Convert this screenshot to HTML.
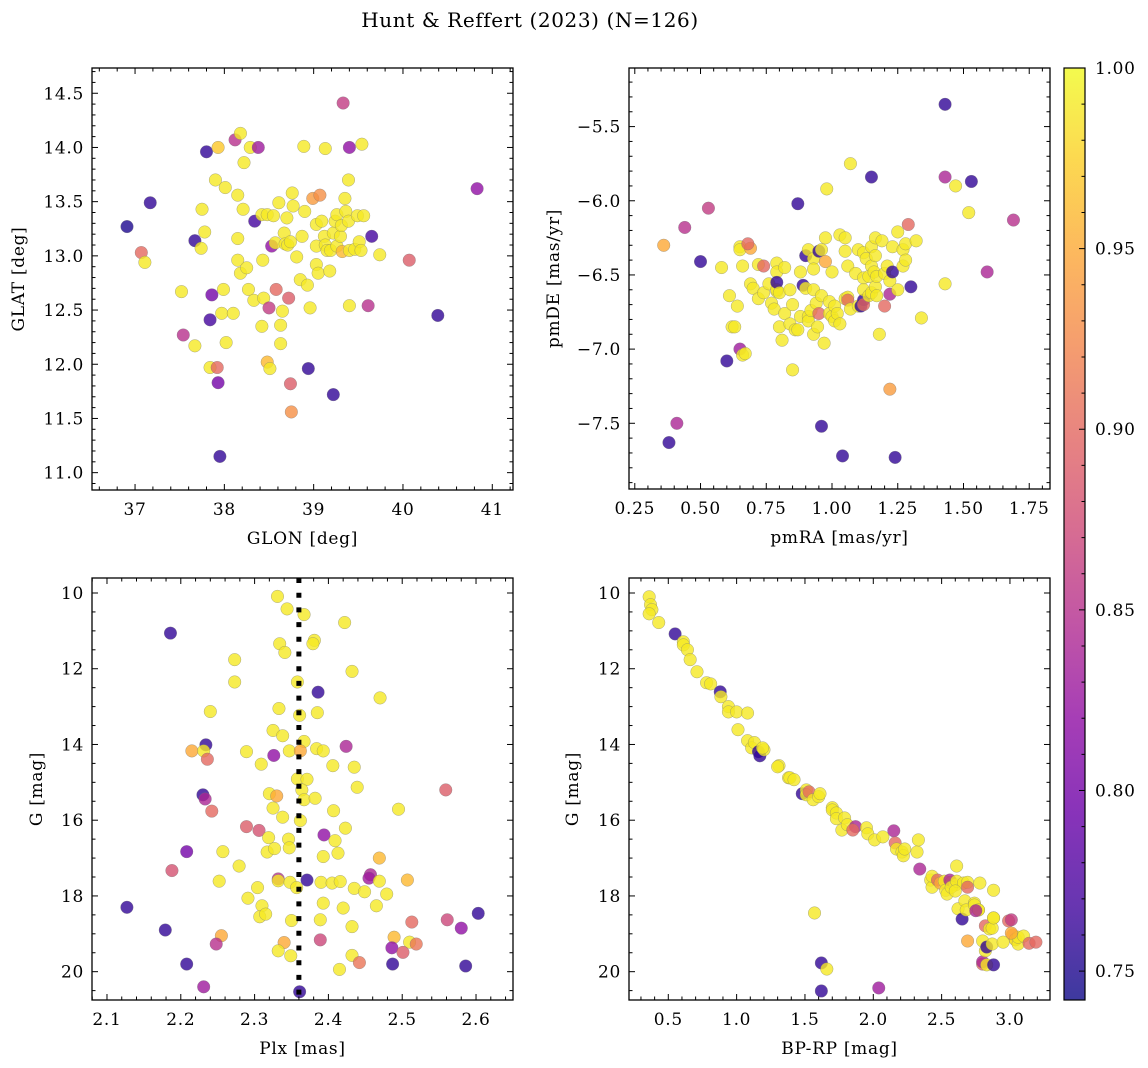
<!DOCTYPE html>
<html><head><meta charset="utf-8"><style>
html,body{margin:0;padding:0;background:#fff;}
svg{display:block;font-family:"DejaVu Serif","Liberation Serif",serif;}
</style></head><body>
<svg id="fig" width="1148" height="1068" viewBox="0 0 1148 1068" xmlns="http://www.w3.org/2000/svg">
<text x="530" y="27" text-anchor="middle" font-size="20" letter-spacing="0.6">Hunt &amp; Reffert (2023) (N=126)</text>
</svg>
<script>
// ---- Panel 1: GLON / GLAT ----
const glon=[36.91,37.17,37.07,37.11,37.52,37.54,37.67,37.67,37.74,37.75,37.80,37.78,37.84,37.86,37.84,37.92,37.93,37.95,37.90,37.93,37.99,37.97,38.01,38.02,38.10,38.12,38.18,38.15,38.15,38.15,38.18,38.22,38.21,38.25,38.27,38.29,38.33,38.34,38.38,38.42,38.42,38.43,38.44,38.48,38.48,38.50,38.51,38.53,38.55,38.57,38.58,38.61,38.63,38.63,38.65,38.67,38.68,38.71,38.70,38.72,38.74,38.75,38.74,38.76,38.77,38.81,38.85,38.87,38.89,38.90,38.93,38.94,38.96,38.99,39.03,39.03,39.03,39.05,39.07,39.09,39.12,39.13,39.13,39.15,39.18,39.19,39.22,39.24,39.26,39.26,39.30,39.31,39.33,39.32,39.35,39.36,39.39,39.39,39.40,39.40,39.40,39.46,39.49,39.51,39.54,39.53,39.56,39.61,39.65,39.74,39.22,40.07,40.39,40.83];
const glat=[13.27,13.49,13.03,12.94,12.67,12.27,12.17,13.14,13.07,13.43,13.96,13.22,12.41,12.64,11.97,11.97,11.83,11.15,13.70,14.00,12.69,12.47,13.63,12.20,12.47,14.07,14.13,12.96,13.16,13.56,12.84,13.86,13.43,12.89,12.69,14.00,12.59,13.32,14.00,13.38,12.35,12.96,12.61,13.38,12.02,12.52,11.96,13.09,13.37,13.12,12.69,13.49,12.36,12.19,12.49,13.21,13.11,13.10,13.35,12.61,11.82,11.56,13.13,13.58,13.46,12.99,12.78,13.18,14.01,13.41,12.73,11.96,12.52,13.53,13.09,13.29,12.92,12.84,13.56,13.32,13.18,13.10,13.99,13.05,12.86,13.05,13.21,13.32,13.09,13.38,13.18,13.28,14.41,13.04,13.53,13.41,13.70,13.32,14.00,12.54,13.05,13.06,13.37,13.13,14.03,13.05,13.37,12.54,13.18,13.01,11.72,12.96,12.45,13.62];
const prob1=[0.75,0.76,0.90,0.99,0.99,0.85,0.99,0.76,0.99,0.99,0.76,0.99,0.77,0.80,0.99,0.90,0.80,0.76,0.99,0.97,0.99,0.99,0.99,0.99,0.99,0.85,0.99,0.99,0.99,0.99,0.99,0.99,0.99,0.99,0.99,0.99,0.99,0.77,0.83,0.99,0.99,0.99,0.99,0.99,0.96,0.86,0.99,0.82,0.99,0.99,0.90,0.99,0.99,0.99,0.99,0.99,0.99,0.99,0.99,0.89,0.89,0.93,0.99,0.99,0.99,0.99,0.99,0.99,0.99,0.99,0.99,0.76,0.99,0.94,0.99,0.99,0.99,0.99,0.93,0.99,0.99,0.99,0.99,0.99,0.99,0.99,0.99,0.99,0.99,0.99,0.99,0.99,0.86,0.96,0.99,0.99,0.99,0.99,0.82,0.99,0.99,0.99,0.99,0.99,0.99,0.99,0.99,0.85,0.77,0.99,0.76,0.89,0.76,0.82];
const glonTicks=[37,38,39,40,41];
const glatTicks=[11.0,11.5,12.0,12.5,13.0,13.5,14.0,14.5];

// ---- Panel 2: pmRA / pmDE ----
const pmra=[0.36,0.41,0.38,0.44,0.50,0.53,0.65,0.66,0.67,0.58,0.60,0.62,0.61,0.63,0.64,0.65,0.65,0.66,0.69,0.68,0.69,0.70,0.72,0.72,0.74,0.74,0.76,0.77,0.78,0.79,0.79,0.79,0.79,0.79,0.80,0.80,0.81,0.82,0.82,0.84,0.84,0.85,0.85,0.86,0.87,0.87,0.88,0.88,0.89,0.90,0.90,0.91,0.91,0.91,0.92,0.93,0.93,0.93,0.93,0.94,0.945,0.95,0.96,0.95,0.96,0.96,0.97,0.975,0.975,0.98,0.99,0.99,1.00,1.00,1.01,1.01,1.02,1.03,1.03,1.04,1.05,1.05,1.05,1.06,1.06,1.06,1.07,1.07,1.09,1.10,1.10,1.11,1.12,1.12,1.12,1.12,1.12,1.13,1.14,1.14,1.15,1.15,1.15,1.15,1.16,1.165,1.165,1.165,1.17,1.17,1.18,1.19,1.20,1.20,1.21,1.22,1.22,1.22,1.23,1.23,1.24,1.25,1.25,1.27,1.27,1.28,1.28,1.29,1.30,1.32,1.34,1.43,1.43,1.43,1.47,1.52,1.53,1.59,1.69];
const pmde=[-6.30,-7.50,-7.63,-6.18,-6.41,-6.05,-7.00,-7.04,-7.03,-6.45,-7.08,-6.85,-6.64,-6.85,-6.71,-6.31,-6.33,-6.44,-6.32,-6.29,-6.56,-6.59,-6.43,-6.66,-6.44,-6.62,-6.56,-6.69,-6.73,-6.61,-6.42,-6.48,-6.60,-6.55,-6.85,-6.62,-6.94,-6.76,-6.45,-6.83,-6.60,-6.70,-7.14,-6.87,-6.02,-6.87,-6.78,-6.48,-6.57,-6.37,-6.59,-6.78,-6.33,-6.81,-6.74,-6.39,-6.60,-6.90,-6.46,-6.69,-6.85,-6.34,-6.64,-6.76,-7.52,-6.33,-6.96,-6.41,-6.25,-5.92,-6.76,-6.68,-6.48,-6.78,-6.81,-6.71,-6.76,-6.23,-6.83,-7.72,-6.34,-6.66,-6.25,-6.65,-6.44,-6.67,-6.73,-5.75,-6.49,-6.33,-6.71,-6.71,-6.67,-6.52,-6.35,-6.60,-6.70,-6.39,-6.51,-6.64,-5.84,-6.44,-6.31,-6.62,-6.48,-6.58,-6.25,-6.37,-6.51,-6.64,-6.90,-6.27,-6.49,-6.71,-6.44,-6.63,-7.27,-6.54,-6.31,-6.48,-7.73,-6.21,-6.60,-6.33,-6.44,-6.29,-6.40,-6.16,-6.58,-6.27,-6.79,-5.35,-5.84,-6.56,-5.90,-6.08,-5.87,-6.48,-6.13];
const prob2=[0.95,0.84,0.76,0.85,0.76,0.86,0.83,0.99,0.99,0.99,0.76,0.99,0.99,0.99,0.99,0.99,0.99,0.99,0.95,0.90,0.99,0.99,0.99,0.99,0.90,0.99,0.99,0.99,0.99,0.99,0.99,0.99,0.99,0.76,0.99,0.99,0.99,0.99,0.99,0.99,0.99,0.99,0.99,0.99,0.76,0.99,0.99,0.99,0.76,0.76,0.99,0.99,0.99,0.99,0.99,0.99,0.99,0.99,0.99,0.99,0.99,0.76,0.99,0.90,0.76,0.99,0.99,0.95,0.99,0.99,0.99,0.99,0.99,0.99,0.99,0.99,0.99,0.99,0.99,0.76,0.99,0.99,0.99,0.99,0.99,0.90,0.99,0.99,0.99,0.99,0.99,0.76,0.76,0.99,0.99,0.99,0.90,0.99,0.99,0.99,0.76,0.99,0.99,0.99,0.99,0.99,0.99,0.99,0.99,0.99,0.99,0.99,0.99,0.90,0.99,0.84,0.94,0.99,0.99,0.76,0.76,0.99,0.99,0.99,0.99,0.99,0.99,0.90,0.76,0.99,0.99,0.76,0.84,0.99,0.99,0.99,0.76,0.84,0.85];
const pmraTicks=[0.25,0.50,0.75,1.00,1.25,1.50,1.75];
const pmdeTicks=[-7.5,-7.0,-6.5,-6.0,-5.5];

// ---- Panel 3: Plx / G ----
const plx=[2.331,2.344,2.367,2.422,2.186,2.334,2.341,2.381,2.379,2.273,2.432,2.273,2.358,2.386,2.470,2.240,2.333,2.361,2.385,2.325,2.338,2.367,2.234,2.215,2.231,2.236,2.289,2.326,2.347,2.362,2.384,2.393,2.424,2.309,2.406,2.435,2.358,2.371,2.439,2.230,2.233,2.242,2.320,2.330,2.364,2.367,2.382,2.325,2.338,2.362,2.407,2.495,2.559,2.289,2.306,2.319,2.346,2.394,2.423,2.409,2.208,2.257,2.317,2.327,2.347,2.393,2.413,2.469,2.188,2.279,2.252,2.332,2.332,2.348,2.357,2.371,2.390,2.405,2.416,2.457,2.455,2.469,2.507,2.304,2.291,2.435,2.449,2.479,2.127,2.310,2.393,2.420,2.465,2.603,2.307,2.315,2.350,2.389,2.513,2.561,2.580,2.432,2.179,2.255,2.248,2.340,2.389,2.489,2.486,2.510,2.519,2.501,2.332,2.349,2.432,2.442,2.208,2.487,2.586,2.415,2.231,2.361];
const gmag3=[10.09,10.42,10.57,10.78,11.06,11.34,11.57,11.25,11.34,11.76,12.07,12.35,12.35,12.62,12.77,13.13,13.05,13.23,13.16,13.63,13.77,13.92,14.01,14.17,14.17,14.39,14.19,14.29,14.17,14.17,14.11,14.17,14.05,14.52,14.56,14.60,14.91,14.92,15.13,15.33,15.44,15.76,15.30,15.36,15.20,15.46,15.42,15.68,15.92,16.01,15.75,15.71,15.20,16.17,16.27,16.46,16.50,16.39,16.21,16.54,16.83,16.83,16.84,16.75,16.73,16.96,16.87,17.00,17.33,17.21,17.61,17.55,17.60,17.64,17.78,17.58,17.64,17.66,17.62,17.44,17.53,17.61,17.58,17.78,18.06,17.80,17.89,17.95,18.30,18.26,18.19,18.32,18.26,18.46,18.55,18.48,18.65,18.63,18.69,18.63,18.85,18.81,18.90,19.05,19.27,19.23,19.16,19.09,19.37,19.22,19.27,19.49,19.45,19.58,19.57,19.76,19.80,19.80,19.85,19.94,20.40,20.53];
const prob3=[0.99,0.99,0.99,0.99,0.76,0.99,0.99,0.99,0.99,0.99,0.99,0.99,0.99,0.76,0.99,0.99,0.99,0.99,0.99,0.99,0.99,0.99,0.76,0.95,0.99,0.90,0.99,0.82,0.99,0.95,0.99,0.99,0.84,0.99,0.99,0.99,0.99,0.99,0.99,0.76,0.84,0.90,0.99,0.95,0.99,0.99,0.99,0.99,0.99,0.99,0.99,0.99,0.89,0.89,0.88,0.99,0.99,0.82,0.99,0.99,0.80,0.99,0.99,0.99,0.99,0.99,0.99,0.96,0.88,0.99,0.99,0.85,0.99,0.99,0.99,0.76,0.99,0.99,0.99,0.84,0.83,0.99,0.96,0.99,0.99,0.99,0.99,0.99,0.76,0.99,0.99,0.99,0.99,0.76,0.99,0.99,0.99,0.99,0.90,0.87,0.82,0.99,0.76,0.95,0.85,0.95,0.87,0.96,0.82,0.99,0.91,0.89,0.99,0.99,0.99,0.91,0.76,0.76,0.76,0.99,0.83,0.76];
const plxLine=[2.36];
const plxTicks=[2.1,2.2,2.3,2.4,2.5,2.6];
const gTicks=[10,12,14,16,18,20];

// ---- Panel 4: BP-RP / G ----
const bprp=[0.36,0.37,0.38,0.36,0.43,0.55,0.61,0.61,0.64,0.66,0.71,0.78,0.81,0.88,0.885,0.94,0.94,1.00,1.08,1.01,1.08,1.11,1.13,1.16,1.17,1.20,1.19,1.31,1.30,1.38,1.39,1.42,1.48,1.51,1.51,1.53,1.56,1.60,1.61,1.70,1.70,1.73,1.73,1.79,1.77,1.81,1.87,1.85,1.95,1.96,2.01,2.07,2.15,2.16,2.17,2.21,2.22,2.23,2.32,2.33,2.34,2.42,2.43,2.43,2.47,2.49,2.52,2.53,2.54,2.57,2.56,2.60,2.57,2.61,2.66,2.60,2.62,2.65,2.67,2.69,2.61,2.69,2.68,2.74,2.77,2.74,2.78,2.69,2.77,2.75,2.80,2.82,2.85,2.88,2.80,2.80,2.83,2.82,2.83,2.88,2.87,2.87,2.88,2.88,2.99,3.01,3.02,3.04,3.04,3.06,3.06,3.10,3.14,3.19,2.95,3.01,1.57,1.62,1.66,2.04,1.62];
const gmag4=[10.10,10.31,10.44,10.55,10.78,11.08,11.29,11.37,11.50,11.76,12.08,12.37,12.40,12.61,12.74,13.00,13.14,13.14,13.17,13.61,13.90,14.09,13.95,14.19,14.30,14.14,14.09,14.56,14.59,14.88,14.88,14.93,15.30,15.20,15.33,15.25,15.46,15.38,15.30,15.67,15.73,15.81,15.96,15.94,16.26,16.12,16.17,16.26,16.20,16.36,16.52,16.44,16.28,16.60,16.76,16.84,16.94,16.76,16.84,16.52,17.29,17.58,17.77,17.48,17.58,17.66,17.61,17.85,17.95,17.64,17.58,17.71,17.77,17.61,17.66,17.87,18.34,18.61,18.13,17.64,17.21,17.77,18.37,18.19,18.37,18.24,17.66,19.19,18.37,18.39,19.19,18.79,18.87,18.58,19.80,19.74,19.82,19.45,19.35,19.82,19.27,18.85,18.58,17.85,18.66,18.63,19.03,19.14,19.16,19.27,19.09,19.06,19.25,19.22,19.22,18.98,18.45,19.77,19.93,20.43,20.51];
const prob4=[0.99,0.99,0.99,0.99,0.99,0.76,0.99,0.99,0.99,0.99,0.99,0.99,0.99,0.76,0.99,0.99,0.99,0.99,0.99,0.99,0.99,0.99,0.99,0.76,0.76,0.99,0.99,0.99,0.99,0.99,0.99,0.99,0.76,0.99,0.99,0.90,0.99,0.99,0.99,0.99,0.99,0.99,0.99,0.99,0.99,0.99,0.84,0.90,0.99,0.99,0.99,0.99,0.84,0.90,0.99,0.99,0.99,0.99,0.99,0.99,0.84,0.99,0.99,0.99,0.90,0.95,0.99,0.99,0.99,0.99,0.84,0.99,0.99,0.99,0.99,0.99,0.99,0.76,0.99,0.99,0.99,0.90,0.99,0.99,0.99,0.99,0.99,0.95,0.99,0.84,0.99,0.90,0.99,0.99,0.90,0.84,0.99,0.99,0.76,0.76,0.99,0.99,0.99,0.99,0.90,0.86,0.95,0.95,0.99,0.99,0.99,0.99,0.90,0.90,0.99,0.95,0.99,0.76,0.99,0.83,0.76];
const bprpTicks=[0.5,1.0,1.5,2.0,2.5,3.0];

// ---- Colorbar ----
const cbTicks=[0.75,0.80,0.85,0.90,0.95,1.00];
const cbMin=0.742, cbMax=1.0;

const NS="http://www.w3.org/2000/svg";
const fig=document.getElementById('fig');
function mk(tag,attrs,parent){const e=document.createElementNS(NS,tag);for(const k in attrs)e.setAttribute(k,attrs[k]);(parent||fig).appendChild(e);return e;}
const plasma=[[13,8,135],[65,4,157],[106,0,168],[143,13,164],[177,42,144],[204,71,120],[225,100,98],[242,132,75],[252,166,54],[252,206,37],[240,249,33]];
function cmap(p){let t=(p-cbMin)/(cbMax-cbMin);t=Math.max(0,Math.min(1,t));const f=t*10,i=Math.min(9,Math.floor(f)),r=f-i;const a=plasma[i],b=plasma[i+1];return `rgb(${Math.round(a[0]+(b[0]-a[0])*r)},${Math.round(a[1]+(b[1]-a[1])*r)},${Math.round(a[2]+(b[2]-a[2])*r)})`;}
function lin(d0,d1,r0,r1){return v=>r0+(v-d0)*(r1-r0)/(d1-d0);}
const FS=17, LS=0.7;

function panel(cfg){
  const g=mk('g',{});
  
  
  const sx=lin(cfg.xd[0],cfg.xd[1],cfg.x0,cfg.x1), sy=lin(cfg.yd[0],cfg.yd[1],cfg.y1,cfg.y0);
  const pg=mk('g',{},g);
  
  
  for(let i=0;i<cfg.xs.length;i++){
    const c=mk('circle',{cx:sx(cfg.xs[i]),cy:sy(cfg.ys[i]),r:6.3,fill:cmap(cfg.ps[i]),'fill-opacity':0.8,stroke:'#777','stroke-opacity':0.6,'stroke-width':0.5},pg);
    
    
  }
  if(cfg.after)cfg.after(g,sx,sy);
  const tk=mk('g',{stroke:'#000','stroke-width':1},g);
  
  
  const xr=[Math.min(cfg.xd[0],cfg.xd[1]),Math.max(cfg.xd[0],cfg.xd[1])], yr=[Math.min(cfg.yd[0],cfg.yd[1]),Math.max(cfg.yd[0],cfg.yd[1])];
  for(let k=Math.ceil(xr[0]/cfg.xmin-1e-6);k*cfg.xmin<=xr[1]+1e-9;k++){const v=k*cfg.xmin,x=sx(v);const major=cfg.xt.some(t=>Math.abs(t-v)<1e-6);const L=major?6:3.5;
    mk('line',{x1:x,x2:x,y1:cfg.y1,y2:cfg.y1-L},tk);mk('line',{x1:x,x2:x,y1:cfg.y0,y2:cfg.y0+L},tk);}
  for(let k=Math.ceil(yr[0]/cfg.ymin-1e-6);k*cfg.ymin<=yr[1]+1e-9;k++){const v=k*cfg.ymin,y=sy(v);const major=cfg.yt.some(t=>Math.abs(t-v)<1e-6);const L=major?6:3.5;
    mk('line',{y1:y,y2:y,x1:cfg.x0,x2:cfg.x0+L},tk);mk('line',{y1:y,y2:y,x1:cfg.x1,x2:cfg.x1-L},tk);}
  mk('rect',{x:cfg.x0,y:cfg.y0,width:cfg.x1-cfg.x0,height:cfg.y1-cfg.y0,fill:'none',stroke:'#000','stroke-width':1.3},g);
  cfg.xt.forEach(v=>{const t=mk('text',{x:sx(v),y:cfg.y1+25,'text-anchor':'middle','font-size':FS,'letter-spacing':LS},g);t.textContent=cfg.xfmt(v);
    });
  cfg.yt.forEach(v=>{const t=mk('text',{x:cfg.x0-8,y:sy(v)+6,'text-anchor':'end','font-size':FS,'letter-spacing':LS},g);t.textContent=cfg.yfmt(v);
    });
  const xl=mk('text',{x:(cfg.x0+cfg.x1)/2,y:cfg.y1+54,'text-anchor':'middle','font-size':FS,'letter-spacing':LS},g);xl.textContent=cfg.xlabel;
  
  const yl=mk('text',{x:cfg.ylx,y:(cfg.y0+cfg.y1)/2,'text-anchor':'middle','font-size':FS,'letter-spacing':LS,transform:`rotate(-90 ${cfg.ylx} ${(cfg.y0+cfg.y1)/2})`},g);yl.textContent=cfg.ylabel;
  
}
const f1=v=>v.toFixed(1), f2=v=>v.toFixed(2), f0=v=>v.toFixed(0), fm=v=>v.toFixed(1).replace('-','\u2212');
const gDom=[20.748,9.604];
panel({name:'panel-position',xs:glon,ys:glat,ps:prob1,x0:92,x1:513,y0:68,y1:490,xd:[36.518,41.232],yd:[10.84,14.733],xt:glonTicks,yt:glatTicks,xmin:0.2,ymin:0.1,xfmt:f0,yfmt:f1,xlabel:'GLON [deg]',ylabel:'GLAT [deg]',ylx:24});
panel({name:'panel-proper-motion',xs:pmra,ys:pmde,ps:prob2,x0:629,x1:1050,y0:68,y1:489,xd:[0.228,1.829],yd:[-7.943,-5.105],xt:pmraTicks,yt:pmdeTicks,xmin:0.05,ymin:0.1,xfmt:f2,yfmt:fm,xlabel:'pmRA [mas/yr]',ylabel:'pmDE [mas/yr]',ylx:559});
panel({name:'panel-parallax',xs:plx,ys:gmag3,ps:prob3,x0:92,x1:513,y0:578,y1:1000,xd:[2.0797,2.6501],yd:gDom,xt:plxTicks,yt:gTicks,xmin:0.02,ymin:0.5,xfmt:f1,yfmt:f0,xlabel:'Plx [mas]',ylabel:'G [mag]',ylx:42,
  after:(g,sx,sy)=>{plxLine.forEach(v=>{const l=mk('line',{x1:sx(v),x2:sx(v),y1:578,y2:1000,stroke:'#000','stroke-width':5,'stroke-dasharray':'5 9.7'},g);
    });}});
panel({name:'panel-cmd',xs:bprp,ys:gmag4,ps:prob4,x0:629,x1:1050,y0:578,y1:1000,xd:[0.2125,3.293],yd:gDom,xt:bprpTicks,yt:gTicks,xmin:0.1,ymin:0.5,xfmt:f1,yfmt:f0,xlabel:'BP-RP [mag]',ylabel:'G [mag]',ylx:578});

(function(){
  const cb=mk('g',{});
  
  
  const x0=1064,x1=1085,y0=68,y1=1000;const sy=lin(cbMin,cbMax,y1,y0);
  const defs=mk('defs',{},cb);const grad=mk('linearGradient',{id:'cbg',x1:0,y1:1,x2:0,y2:0},defs);
  for(let i=0;i<=20;i++){const p=cbMin+(cbMax-cbMin)*i/20;mk('stop',{offset:(i/20),'stop-color':cmap(p),'stop-opacity':0.8},grad);}
  mk('rect',{x:x0,y:y0,width:x1-x0,height:y1-y0,fill:'url(#cbg)',stroke:'#000','stroke-width':1.2},cb);
  for(let k=75;k<=100;k++){const v=k/100,y=sy(v);const major=k%5===0;mk('line',{x1:x1,x2:x1-(major?6:3.5),y1:y,y2:y,stroke:'#000','stroke-width':1},cb);}
  cbTicks.forEach(v=>{const t=mk('text',{x:1095,y:sy(v)+6,'font-size':FS,'letter-spacing':LS},cb);t.textContent=v.toFixed(2);
    });
})();
</script>
</body></html>
